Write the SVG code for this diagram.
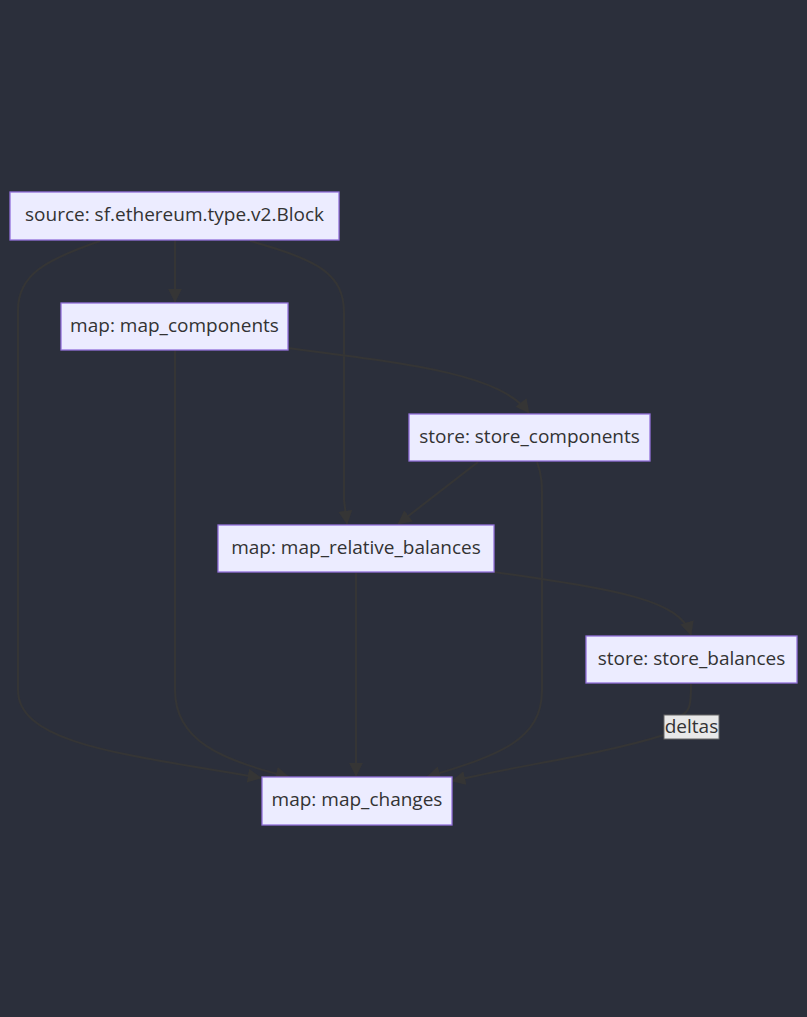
<svg xmlns="http://www.w3.org/2000/svg" width="807" height="1017" viewBox="0 0 807 1017">
<style>
.bg{fill:#2b2f3b}
.node rect{fill:#ececff;stroke:#9370db;stroke-width:1.3}
.node text,.lbl text{font-family:"Open Sans","Liberation Sans",sans-serif;font-size:19px;fill:#333;text-anchor:middle;dominant-baseline:central}
.edge{fill:none;stroke:#353535;stroke-width:2;marker-end:url(#arrow)}
.lbl rect{fill:#e8e8e8;stroke:#666;stroke-width:1}
</style>
<defs>
<marker id="arrow" viewBox="0 0 10 10" refX="9.5" refY="5" markerWidth="14" markerHeight="14" markerUnits="userSpaceOnUse" orient="auto">
<path d="M0,0 L10,5 L0,10 z" fill="#353535"/>
</marker>
</defs>
<rect class="bg" x="0" y="0" width="807" height="1017"/>
<g id="edges">
<path class="edge" d="M175,240 L175,302"/>
<path class="edge" d="M100,241 C45,260 18,275 18,310 L18,690 C18,745 130,755 261,778"/>
<path class="edge" d="M175,350 L175,690 C175,740 220,760 289,777"/>
<path class="edge" d="M250,241 C320,260 344,275 344,313 L344,500 L347,524"/>
<path class="edge" d="M288,348 C420,365 500,375 529,413"/>
<path class="edge" d="M478,462 L398,524"/>
<path class="edge" d="M537,462 C542,475 542,485 542,500 L542,690 C542,740 500,755 427,777"/>
<path class="edge" d="M356,573 L356,776"/>
<path class="edge" d="M494,572 C620,590 680,600 691,635"/>
<path class="edge" d="M691,684 C691,705 690,712 680,716 M664,735 C600,755 520,765 452,781"/>
</g>
<g id="label-deltas" class="lbl">
<rect x="664" y="715" width="55" height="24"/>
<text x="691.5" y="726">deltas</text>
</g>
<g id="node-source" class="node">
<rect x="10" y="192" width="329" height="48"/>
<text x="174.5" y="214">source: sf.ethereum.type.v2.Block</text>
</g>
<g id="node-map_components" class="node">
<rect x="61" y="303" width="227" height="47"/>
<text x="174.5" y="325">map: map_components</text>
</g>
<g id="node-store_components" class="node">
<rect x="409" y="414" width="241" height="47"/>
<text x="529.5" y="436">store: store_components</text>
</g>
<g id="node-map_relative_balances" class="node">
<rect x="218" y="525" width="276" height="47"/>
<text x="356" y="547">map: map_relative_balances</text>
</g>
<g id="node-store_balances" class="node">
<rect x="586" y="636" width="211" height="47"/>
<text x="691.5" y="658">store: store_balances</text>
</g>
<g id="node-map_changes" class="node">
<rect x="262" y="777" width="190" height="48"/>
<text x="357" y="799">map: map_changes</text>
</g>
</svg>
